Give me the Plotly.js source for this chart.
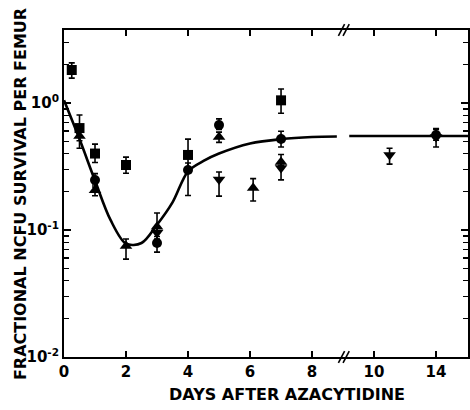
<!DOCTYPE html>
<html>
<head>
<meta charset="utf-8">
<script src="https://cdn.plot.ly/plotly-3.0.1.min.js"></script>
<style>html,body{margin:0;padding:0;background:#fff;}#chart{width:470px;height:410px;}</style>
</head>
<body>
<div id="chart"></div>
<script>
// Axis positions: 0..8 are days; 10 -> day 10, 12 -> day 14 (broken axis)
const tickPos = [0, 2, 4, 6, 8, 10, 12];
const tickLabels = ['0', '2', '4', '6', '8', '10', '14'];
const yTickVals = [0.01, 0.1, 1];
const yTickText = ['10<sup>-2</sup>', '10<sup>-1</sup>', '10<sup>0</sup>'];
const yMinorVals = [0.02, 0.03, 0.04, 0.05, 0.06, 0.07, 0.08, 0.09,
                    0.2, 0.3, 0.4, 0.5, 0.6, 0.7, 0.8, 0.9, 2, 3];
const xTitle = 'DAYS AFTER AZACYTIDINE';
const yTitle = 'FRACTIONAL NCFU SURVIVAL PER FEMUR';

// squares
const sqX = [0.25, 0.5, 1, 2, 4, 7];
const sqY = [1.82, 0.635, 0.40, 0.325, 0.39, 1.05];
const sqUp = [0.25, 0.17, 0.075, 0.05, 0.13, 0.24];
const sqDn = [0.25, 0.13, 0.06, 0.045, 0.09, 0.22];

// circles
const ciX = [1, 3, 4, 5, 7, 12];
const ciY = [0.248, 0.079, 0.297, 0.67, 0.52, 0.56];
const ciUp = [0.03, 0.01, 0.04, 0.08, 0.08, 0.07];
const ciDn = [0.03, 0.012, 0.11, 0.05, 0.07, 0.05];

// triangles up
const tuX = [0.5, 1, 2, 3, 5, 6.1, 7];
const tuY = [0.55, 0.206, 0.075, 0.106, 0.54, 0.214, 0.343];
const tuUp = [0, 0.02, 0.01, 0.03, 0.05, 0.04, 0.05];
const tuDn = [0.11, 0.02, 0.016, 0.01, 0.05, 0.045, 0.02];

// triangles down
const tdX = [3, 5, 7, 10.5, 12];
const tdY = [0.095, 0.25, 0.308, 0.39, 0.54];
const tdUp = [0.01, 0.036, 0.03, 0.05, 0.08];
const tdDn = [0.01, 0.065, 0.06, 0.06, 0.09];

// fitted curve (with break)
const curveX = [0, 0.5, 1, 1.5, 2, 2.5, 3, 3.5, 4, 4.5, 5, 6, 7, 8, 8.8, null, 9.2, 10, 11, 12, 13.03];
const curveY = [1.05, 0.52, 0.245, 0.12, 0.078, 0.079, 0.11, 0.165, 0.29, 0.35, 0.40, 0.48, 0.52, 0.54, 0.545, null, 0.55, 0.55, 0.55, 0.55, 0.55];

const FONT = 'DejaVu Sans, Liberation Sans, sans-serif';

function pts(x, y, up, dn, symbol, size) {
  return {
    type: 'scatter', mode: 'markers', x: x, y: y,
    marker: {symbol: symbol, size: size, color: 'black'},
    error_y: {type: 'data', symmetric: false, array: up, arrayminus: dn,
              color: 'black', thickness: 1.6, width: 3},
    showlegend: false, hoverinfo: 'skip'
  };
}

const traces = [
  {type: 'scatter', mode: 'lines', x: curveX, y: curveY,
   line: {color: 'black', width: 2.6, shape: 'spline', smoothing: 0.9},
   connectgaps: false, showlegend: false, hoverinfo: 'skip'},
  pts(sqX, sqY, sqUp, sqDn, 'square', 10),
  pts(ciX, ciY, ciUp, ciDn, 'circle', 10),
  pts(tuX, tuY, tuUp, tuDn, 'triangle-up', 11),
  pts(tdX, tdY, tdUp, tdDn, 'triangle-down', 11)
];

function slash(x0, x1, y0, y1, yref) {
  return {type: 'line', xref: 'x', yref: yref, x0: x0, x1: x1, y0: y0, y1: y1,
          line: {color: 'black', width: 1.6}};
}
const shapes = [
  slash(8.85, 9.05, -0.018, 0.018, 'paper'),
  slash(9.0, 9.2, -0.018, 0.018, 'paper'),
  slash(8.85, 9.05, 0.982, 1.018, 'paper'),
  slash(9.0, 9.2, 0.982, 1.018, 'paper'),
  slash(8.75, 8.95, Math.log10(0.55) - 0.05, Math.log10(0.55) + 0.05, 'y'),
  slash(9.05, 9.25, Math.log10(0.55) - 0.05, Math.log10(0.55) + 0.05, 'y')
];

const titleFont = {family: FONT, size: 16, color: 'black', weight: 'bold'};

const layout = {
  width: 470, height: 410,
  margin: {l: 64, r: 2, t: 30, b: 53},
  paper_bgcolor: 'white', plot_bgcolor: 'white',
  font: {family: FONT, color: 'black'},
  xaxis: {
    range: [0, 13.03], tickvals: tickPos, ticktext: tickLabels,
    ticks: 'inside', ticklen: 6, tickwidth: 1.6, tickcolor: 'black',
    showline: true, linecolor: 'black', linewidth: 2, mirror: 'ticks',
    showgrid: false, zeroline: false,
    tickfont: {family: FONT, size: 15, color: 'black', weight: 'bold'}
  },
  yaxis: {
    type: 'log', range: [-2, 0.575], tickvals: yTickVals, ticktext: yTickText,
    ticks: 'inside', ticklen: 7, tickwidth: 1.6, tickcolor: 'black',
    minor: {tickmode: 'array', tickvals: yMinorVals, ticks: 'inside', ticklen: 5,
            tickwidth: 1.4, tickcolor: 'black', showgrid: false},
    showline: true, linecolor: 'black', linewidth: 2, mirror: 'ticks',
    showgrid: false, zeroline: false,
    tickfont: {family: FONT, size: 15, color: 'black', weight: 'bold'}
  },
  annotations: [
    {text: xTitle, xref: 'paper', yref: 'paper', x: 0.552, y: -0.116,
     xanchor: 'center', yanchor: 'middle', showarrow: false, font: titleFont},
    {text: yTitle, xref: 'paper', yref: 'paper', x: -0.109, y: 0.498,
     xanchor: 'center', yanchor: 'middle', textangle: -90, showarrow: false, font: titleFont}
  ],
  shapes: shapes
};

Plotly.newPlot('chart', traces, layout, {staticPlot: true, displayModeBar: false});
</script>
</body>
</html>
